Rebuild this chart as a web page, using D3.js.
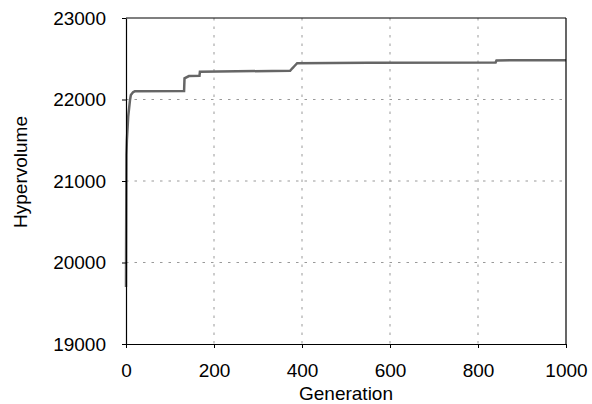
<!DOCTYPE html>
<html>
<head>
<meta charset="utf-8">
<script src="https://cdn.jsdelivr.net/npm/d3@7"></script>
<style>
  body { margin: 0; background: #fff; }
  text { font-family: "Liberation Sans", Arial, sans-serif; }
</style>
</head>
<body>
<svg id="chart" width="592" height="404"></svg>
<script>
// generation number and hypervolume
const generations = [0, 1, 2, 5, 9, 11, 16, 20, 132, 133, 143, 167, 168, 373, 378, 383, 389, 550, 840, 842, 1000];
const hypervolume = [19700, 21320, 21500, 21790, 21990, 22055, 22090, 22100, 22105, 22260, 22288, 22290, 22342, 22352, 22383, 22411, 22446, 22450, 22455, 22480, 22482];
const xTicks = [0, 200, 400, 600, 800, 1000];
const yTicks = [19000, 20000, 21000, 22000, 23000];

const svg = d3.select("#chart");
const margin = { top: 18, right: 26, bottom: 60, left: 126 };
const width = 592, height = 404;

const x = d3.scaleLinear().domain([0, 1000]).range([margin.left, width - margin.right]);
const y = d3.scaleLinear().domain([19000, 23000]).range([height - margin.bottom, margin.top]);

// grid
svg.append("g").selectAll("line")
    .data(xTicks.slice(1, -1))
    .enter().append("line")
    .attr("x1", d => x(d)).attr("x2", d => x(d))
    .attr("y1", y(23000)).attr("y2", y(19000))
    .attr("stroke", "#999").attr("stroke-width", 1)
    .attr("stroke-dasharray", "2.5,6");

svg.append("g").selectAll("line")
    .data(yTicks.slice(1, -1))
    .enter().append("line")
    .attr("x1", x(0)).attr("x2", x(1000))
    .attr("y1", d => y(d)).attr("y2", d => y(d))
    .attr("stroke", "#999").attr("stroke-width", 1)
    .attr("stroke-dasharray", "2.5,6");

// line
const points = generations.map((g, i) => [g, hypervolume[i]]);
svg.append("path")
    .datum(points)
    .attr("fill", "none")
    .attr("stroke", "#666")
    .attr("stroke-width", 2.5)
    .attr("d", d3.line().x(d => x(d[0])).y(d => y(d[1])));

// frame top/right
svg.append("line")
    .attr("x1", x(0)).attr("x2", x(1000)).attr("y1", y(23000)).attr("y2", y(23000))
    .attr("stroke", "#000").attr("stroke-width", 1.2);
svg.append("line")
    .attr("x1", x(1000)).attr("x2", x(1000)).attr("y1", y(23000)).attr("y2", y(19000))
    .attr("stroke", "#000").attr("stroke-width", 1.2);

// axes
const xAxis = svg.append("g")
    .attr("transform", `translate(0,${y(19000)})`)
    .call(d3.axisBottom(x).tickValues(xTicks).tickSize(4).tickPadding(16).tickSizeOuter(0).tickFormat(d3.format("d")));
const yAxis = svg.append("g")
    .attr("transform", `translate(${x(0)},0)`)
    .call(d3.axisLeft(y).tickValues(yTicks).tickSize(4).tickPadding(16).tickSizeOuter(0).tickFormat(d3.format("d")));

[xAxis, yAxis].forEach(a => {
    a.select(".domain").attr("stroke", "#000").attr("stroke-width", 1.2);
    a.selectAll(".tick line").attr("stroke", "#000");
    a.selectAll(".tick text").attr("fill", "#000").style("font-size", "19px")
        .style("font-family", "'Liberation Sans', Arial, sans-serif");
});

// axis titles
svg.append("text")
    .attr("x", (x(0) + x(1000)) / 2)
    .attr("y", 400)
    .attr("text-anchor", "middle")
    .style("font-size", "19px")
    .text("Generation");

svg.append("text")
    .attr("transform", "translate(27,172) rotate(-90)")
    .attr("text-anchor", "middle")
    .style("font-size", "19px")
    .text("Hypervolume");
</script>
</body>
</html>
